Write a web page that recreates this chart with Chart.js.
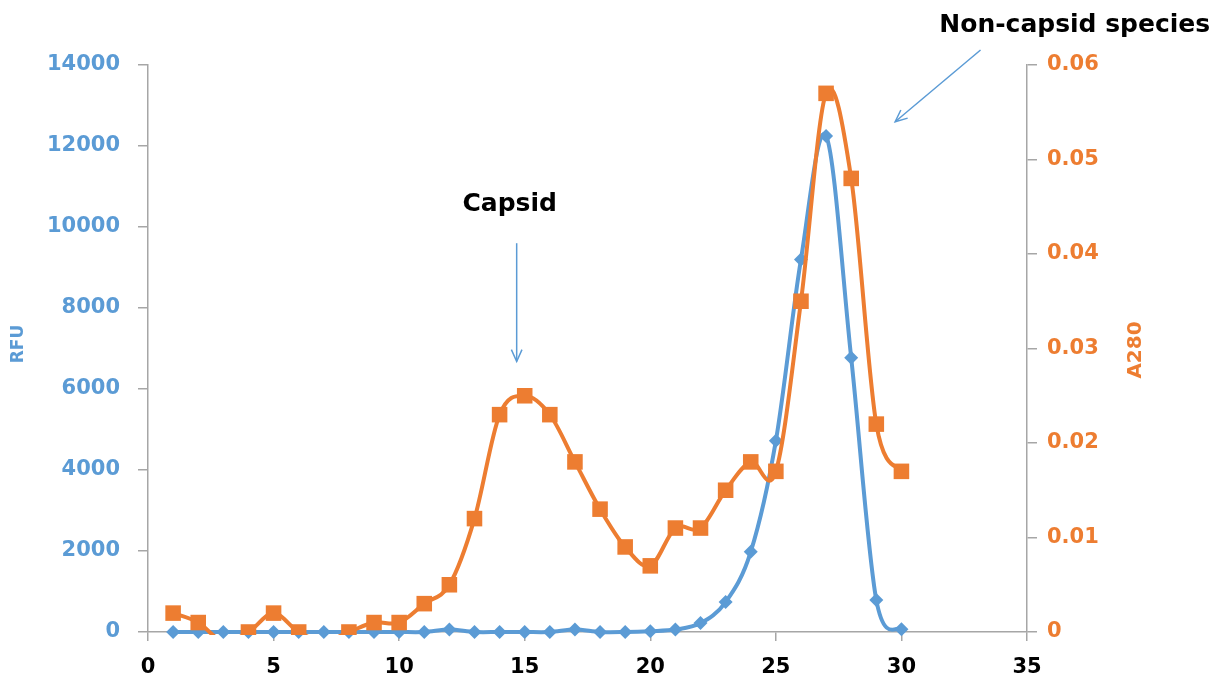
<!DOCTYPE html>
<html>
<head>
<meta charset="utf-8">
<script src="https://cdn.jsdelivr.net/npm/chart.js@4/dist/chart.umd.min.js"></script>
<style>
html,body{margin:0;padding:0;background:#fff;}
#wrap{width:1217px;height:686px;position:relative;}
</style>
</head>
<body>
<div id="wrap"><canvas id="c" width="1217" height="686"></canvas></div>
<script>
// ---- data ----
const fractions = [1,2,3,4,5,6,7,8,9,10,11,12,13,14,15,16,17,18,19,20,21,22,23,24,25,26,27,28,29,30];
const rfuValues = [0,0,0,0,0,0,0,0,0,0,0,60,0,0,0,0,60,0,0,20,60,220,740,1980,4720,9200,12250,6770,790,70];
const a280Values = [0.002,0.001,-0.001,0,0.002,0,-0.001,0,0.001,0.001,0.003,0.005,0.012,0.023,0.025,0.023,0.018,0.013,0.009,0.007,0.011,0.011,0.015,0.018,0.017,0.035,0.057,0.048,0.022,0.017];
const xTicks = [0,5,10,15,20,25,30,35];
const rfuTicks = [0,2000,4000,6000,8000,10000,12000,14000];
const a280Ticks = [0,0.01,0.02,0.03,0.04,0.05,0.06];
const annotationLabels = [
  {text:'Capsid', x:14.4, y:10550},
  {text:'Non-capsid species', x:36.9, y:14980}
];
const annotationArrows = [
  {x1:14.68, y1:9600, x2:14.68, y2:6680},
  {x1:33.15, y1:14370, x2:29.75, y2:12600}
];

const BLUE = '#5B9BD5';
const ORANGE = '#ED7D31';
const AXIS = '#A6A6A6';
const FONT = "'DejaVu Sans', sans-serif";

// Excel-like smoothing: uniform Catmull-Rom control points in pixel space
const smoothPlugin = {
  id: 'smooth',
  beforeDatasetDraw(chart, args) {
    const meta = args.meta;
    const line = meta.dataset;
    if (!line) return;
    line.updateControlPoints(chart.chartArea, meta.iScale.axis);
    const pts = meta.data;
    const n = pts.length, k = 1/6;
    for (let i = 0; i < n; i++) {
      const p = pts[i];
      const prev = pts[Math.max(0, i - 1)];
      const next = pts[Math.min(n - 1, i + 1)];
      const dx = (next.x - prev.x) * k, dy = (next.y - prev.y) * k;
      p.cp1x = p.x - dx; p.cp1y = p.y - dy;
      p.cp2x = p.x + dx; p.cp2y = p.y + dy;
    }
  }
};

const annotPlugin = {
  id: 'annot',
  afterDatasetsDraw(chart) {
    const {ctx, scales} = chart;
    const xs = scales.x, ys = scales.y;
    ctx.save();
    ctx.fillStyle = '#000';
    ctx.font = "bold 25px " + FONT;
    ctx.textAlign = 'center';
    ctx.textBaseline = 'middle';
    annotationLabels.forEach(l => {
      ctx.fillText(l.text, xs.getPixelForValue(l.x), ys.getPixelForValue(l.y));
    });
    ctx.strokeStyle = BLUE;
    ctx.lineWidth = 1.5;
    annotationArrows.forEach(a => {
      const x1 = xs.getPixelForValue(a.x1), y1 = ys.getPixelForValue(a.y1);
      const x2 = xs.getPixelForValue(a.x2), y2 = ys.getPixelForValue(a.y2);
      ctx.beginPath();
      ctx.moveTo(x1, y1); ctx.lineTo(x2, y2);
      ctx.stroke();
      const ang = Math.atan2(y2 - y1, x2 - x1);
      const L = 13, spread = 0.42;
      ctx.beginPath();
      ctx.moveTo(x2 - L*Math.cos(ang - spread), y2 - L*Math.sin(ang - spread));
      ctx.lineTo(x2, y2);
      ctx.lineTo(x2 - L*Math.cos(ang + spread), y2 - L*Math.sin(ang + spread));
      ctx.stroke();
    });
    // axis titles (both read bottom-to-top)
    const area = chart.chartArea;
    ctx.textAlign = 'center';
    ctx.textBaseline = 'middle';
    ctx.save();
    ctx.translate(19, 344);
    ctx.rotate(-Math.PI/2);
    ctx.fillStyle = BLUE;
    ctx.font = "bold 17px " + FONT;
    ctx.fillText('RFU', 0, 0);
    ctx.restore();
    ctx.save();
    ctx.translate(1136, 350);
    ctx.rotate(-Math.PI/2);
    ctx.fillStyle = ORANGE;
    ctx.font = "bold 20px " + FONT;
    ctx.fillText('A280', 0, 0);
    ctx.restore();
    ctx.restore();
  }
};

new Chart(document.getElementById('c'), {
  type: 'line',
  data: {
    datasets: [
      {
        label: 'A280',
        yAxisID: 'y1',
        order: 0,
        data: fractions.map((f, i) => ({x: f, y: a280Values[i]})),
        borderColor: ORANGE,
        backgroundColor: ORANGE,
        borderWidth: 4,
        tension: 0.4,
        pointStyle: 'rect',
        pointRadius: ctx => (ctx.raw && ctx.raw.y < 0) ? 0 : 11,
        pointBorderWidth: 0,
        clip: {left: 10, top: 10, right: 10, bottom: 3}
      },
      {
        label: 'RFU',
        yAxisID: 'y',
        order: 1,
        data: fractions.map((f, i) => ({x: f, y: rfuValues[i]})),
        borderColor: BLUE,
        backgroundColor: BLUE,
        borderWidth: 4,
        tension: 0.4,
        pointStyle: 'rectRot',
        pointRadius: 7,
        pointBorderWidth: 0,
        clip: {left: 10, top: 10, right: 10, bottom: 8}
      }
    ]
  },
  options: {
    responsive: false,
    animation: false,
    layout: {padding: {top: 65, right: 62, bottom: 0, left: 0}},
    plugins: {legend: {display: false}, tooltip: {enabled: false}},
    scales: {
      x: {
        type: 'linear',
        min: 0, max: 35,
        afterBuildTicks: s => { s.ticks = xTicks.map(v => ({value: v})); },
        afterFit: s => { s.height = 54; },
        border: {color: AXIS, width: 1.5},
        grid: {display: true, drawOnChartArea: false, color: AXIS, tickLength: 9, lineWidth: 1.5},
        ticks: {color: '#000', font: {family: FONT, size: 21, weight: 'bold'}, padding: 14, maxRotation: 0}
      },
      y: {
        position: 'left',
        min: 0, max: 14000,
        afterBuildTicks: s => { s.ticks = rfuTicks.map(v => ({value: v})); },
        afterFit: s => { s.width = 148; },
        border: {color: AXIS, width: 1.5},
        grid: {display: true, drawOnChartArea: false, color: AXIS, tickLength: 10, lineWidth: 1.5},
        ticks: {color: BLUE, font: {family: FONT, size: 21, weight: 'bold'}, padding: 18, callback: v => String(v)}
      },
      y1: {
        position: 'right',
        min: 0, max: 0.06,
        afterBuildTicks: s => { s.ticks = a280Ticks.map(v => ({value: v})); },
        afterFit: s => { s.width = 128; },
        border: {color: AXIS, width: 1.5},
        grid: {display: true, drawOnChartArea: false, color: AXIS, tickLength: 10, lineWidth: 1.5},
        ticks: {color: ORANGE, font: {family: FONT, size: 21, weight: 'bold'}, padding: 10, callback: v => (v === 0 ? '0' : String(Math.round(v*100)/100))}
      }
    }
  },
  plugins: [smoothPlugin, annotPlugin]
});
</script>
</body>
</html>
